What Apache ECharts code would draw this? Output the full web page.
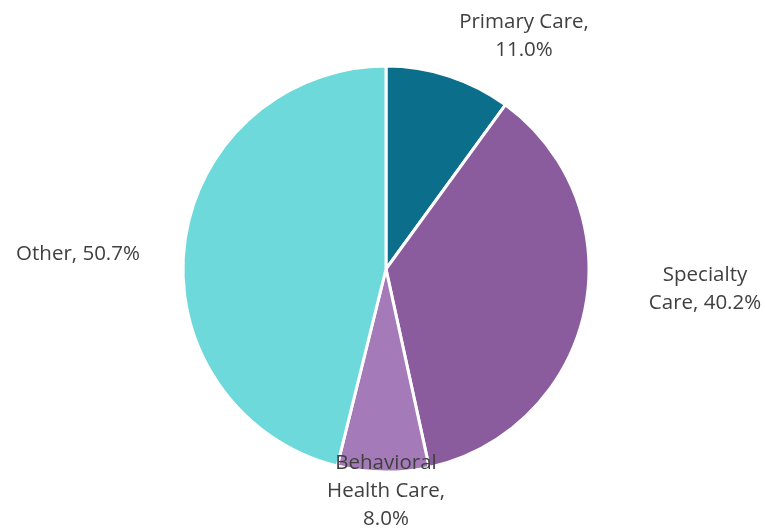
<!DOCTYPE html>
<html>
<head>
<meta charset="utf-8">
<script src="https://cdn.jsdelivr.net/npm/echarts@6/dist/echarts.min.js"></script>
<style>
  html, body { margin: 0; padding: 0; background: #ffffff; }
  #chart { width: 765px; height: 530px; }
</style>
</head>
<body>
<div id="chart"></div>
<script>
// Share of visits by care type (percent)
const categories = ['Primary Care', 'Specialty Care', 'Behavioral Health Care', 'Other'];
const values = [11.0, 40.2, 8.0, 50.7];

// Label text as it is broken across lines
const labelTexts = [
  'Primary Care,\n11.0%',
  'Specialty\nCare, 40.2%',
  'Behavioral\nHealth Care,\n8.0%',
  'Other, 50.7%'
];

const sliceColors = ['#0b6e8a', '#8a5c9d', '#a57ab8', '#6dd9db'];

// Where each label block is centred on the canvas
const labelCenters = [[524, 36], [705, 289], [386, 491], [78, 254]];

const chart = echarts.init(document.getElementById('chart'), null, { renderer: 'canvas' });

chart.setOption({
  backgroundColor: '#ffffff',
  animation: false,
  series: [{
    type: 'pie',
    center: [386, 269],
    radius: [0, 203],
    startAngle: 90,
    clockwise: true,
    avoidLabelOverlap: false,
    itemStyle: { borderColor: '#ffffff', borderWidth: 3 },
    label: {
      show: true,
      position: 'outside',
      fontFamily: 'Open Sans',
      fontSize: 20.5,
      lineHeight: 28,
      color: '#404040',
      align: 'center',
      formatter: p => labelTexts[p.dataIndex]
    },
    labelLine: { show: false },
    labelLayout: p => ({
      x: labelCenters[p.dataIndex][0],
      y: labelCenters[p.dataIndex][1],
      align: 'center',
      verticalAlign: 'middle'
    }),
    emphasis: { disabled: true },
    data: categories.map((name, i) => ({
      name,
      value: values[i],
      itemStyle: { color: sliceColors[i] }
    }))
  }]
});
</script>
</body>
</html>
